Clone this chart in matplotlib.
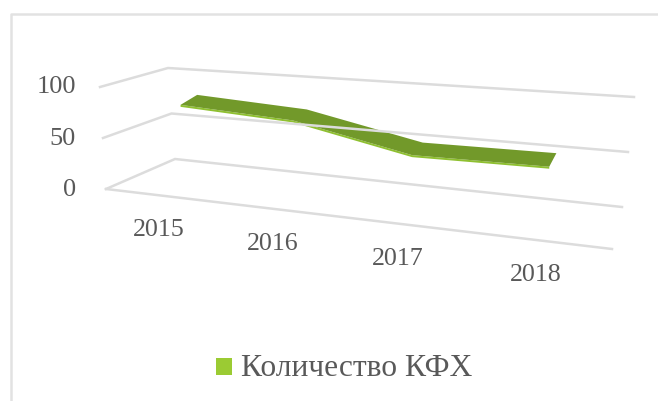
import matplotlib
matplotlib.use('Agg')
import matplotlib.pyplot as plt
import numpy as np
from matplotlib.patches import Polygon, Rectangle

years = ['2015', '2016', '2017', '2018']
kfh_count = [85, 79, 57, 58]
value_ticks = [0, 50, 100]
legend_label = 'Количество КФХ'

plt.rcParams['font.family'] = ['Liberation Serif', 'DejaVu Sans']

W, H = 658, 401
GRID = '#dcdcdc'
TEXT = '#595959'

# углы "коробки" excel-диаграммы в пикселях: (глубина, категория, значение)
corners = {
    (0, 0, 0): (106, 189), (0, 1, 0): (612, 249),
    (1, 0, 0): (175, 159), (1, 1, 0): (622, 207),
    (0, 0, 1): (100, 87), (0, 1, 1): (606, 126),
    (1, 0, 1): (168, 68), (1, 1, 1): (634, 97),
}
# положение категорий вдоль оси, с учётом перспективы
cat_pos = [0.139, 0.363, 0.600, 0.875]


def project(u, value, depth):
    w = value / value_ticks[-1]
    xy = np.zeros(2)
    for (d, c, v), p in corners.items():
        k = (depth if d else 1 - depth) * (u if c else 1 - u) * (w if v else 1 - w)
        xy += k * np.array(p)
    return xy


fig = plt.figure(figsize=(W / 100, H / 100), dpi=100, facecolor='white')
ax = fig.add_axes([0, 0, 1, 1])
ax.set_xlim(0, W)
ax.set_ylim(H, 0)
ax.axis('off')

# рамка
ax.plot([10.5, 10.5, W], [H, 13.5, 13.5], color='#e2e2e2', lw=1.8)

# сетка
for v in value_ticks:
    pts = [project(0, v, 0), project(0, v, 1), project(1, v, 1)]
    ax.plot(*zip(*pts), color=GRID, lw=1.8, solid_joinstyle='miter')
ax.plot(*zip(project(0, 0, 0), project(1, 0, 0)), color=GRID, lw=1.8)

# лента: задний край чуть выше, чтобы была толщина
front = [project(c, v, 0.15) for c, v in zip(cat_pos, kfh_count)]
back = [project(c, v + 4, 0.42) for c, v in zip(cat_pos, kfh_count)]
edge = [p + np.array([0, 2]) for p in front]
ax.add_patch(Polygon(front + edge[::-1], closed=True, fc='#8fc031', ec='none'))
ax.add_patch(Polygon(front + back[::-1], closed=True, fc='#72992a', ec='none'))

# подписи
for label, x, y in zip(years, [159, 273, 398, 536], [230, 244, 259, 275]):
    ax.text(x, y, label, fontsize=18.7, color=TEXT, ha='center', va='center')
for v, y in zip(value_ticks, [190, 139, 87]):
    ax.text(76, y, str(v), fontsize=19, color=TEXT, ha='right', va='center')

# легенда
ax.add_patch(Rectangle((216, 358), 16, 17, fc='#9bcb33', ec='none'))
ax.text(241, 369, legend_label, fontsize=22.7, color=TEXT, ha='left', va='center')

fig.savefig('out.png', dpi=100)
